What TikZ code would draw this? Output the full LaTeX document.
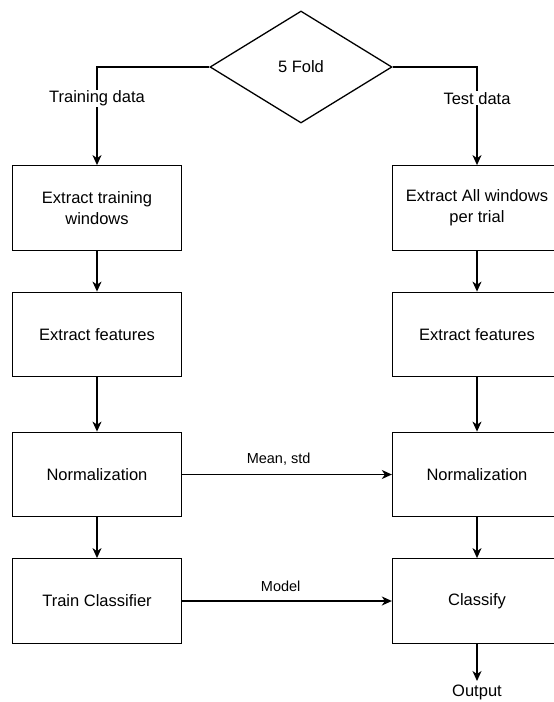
\documentclass[tikz,border=0pt]{standalone}
\usepackage{fontspec}
\setmainfont{Liberation Sans}
\usepackage{tikz}
\usetikzlibrary{arrows.meta,positioning,shapes.geometric}
\tikzset{node distance=126.5pt,
	every node/.style={
		font=\fontsize{16.5}{21}\selectfont
	},
	block/.style={
		draw,
		line width=1.3pt,
		fill=white,
		minimum width=169pt,
		minimum height=84.5pt,
		align=center
	},
	decision/.style={
		diamond,
		draw,
		line width=1.3pt,
		minimum width=182pt,
		minimum height=112pt,
		inner sep=0pt
	},
	flow/.style={
		draw,
		->,>={Stealth[length=10pt,width=9pt,inset=3pt]},
		line width=1.3pt
	},
	lbl/.style={
		font=\fontsize{14.5}{18}\selectfont,
		inner sep=9pt
	}
}

\begin{document}
\begin{tikzpicture}
		\useasboundingbox (0pt,0pt) rectangle (554pt,-702pt);

		\node[decision] (fold) at (301pt,-67pt) {5 Fold};

		\node[block] (trainwin) at (97pt,-208pt) {Extract training\\windows};
		\node[block, below of=trainwin] (trainfeat) {Extract features};
		\node[block, below of=trainfeat, node distance=140pt] (trainnorm) {Normalization};
		\node[block, below of=trainnorm] (trainclf) {Train Classifier};

		\node[block, right of=trainwin, node distance=380pt] (testwin) {Extract All windows\\per trial};
		\node[block, below of=testwin] (testfeat) {Extract features};
		\node[block, below of=testfeat, node distance=140pt] (testnorm) {Normalization};
		\node[block, below of=testnorm] (classify) {Classify};

		\node[below of=classify, node distance=80pt, anchor=north, inner sep=4pt] (output) {Output};

		\draw[flow] (fold.west) -| node[pos=0.66, fill=white, inner sep=1pt]{Training data} (trainwin.north);
		\draw[flow] (fold.east) -| node[pos=0.66, fill=white, inner sep=1pt]{Test data} (testwin.north);

		\draw[flow] (trainwin) -- (trainfeat);
		\draw[flow] (trainfeat) -- (trainnorm);
		\draw[flow] (trainnorm) -- (trainclf);

		\draw[flow] (testwin) -- (testfeat);
		\draw[flow] (testfeat) -- (testnorm);
		\draw[flow] (testnorm) -- (classify);
		\draw[flow] (classify) -- (output);

		\draw[flow] (trainnorm) -- node[lbl, above, pos=0.46]{Mean, std} (testnorm);
		\draw[flow] (trainclf) -- node[lbl, above, pos=0.47]{Model} (classify);

	\end{tikzpicture}
\end{document}
